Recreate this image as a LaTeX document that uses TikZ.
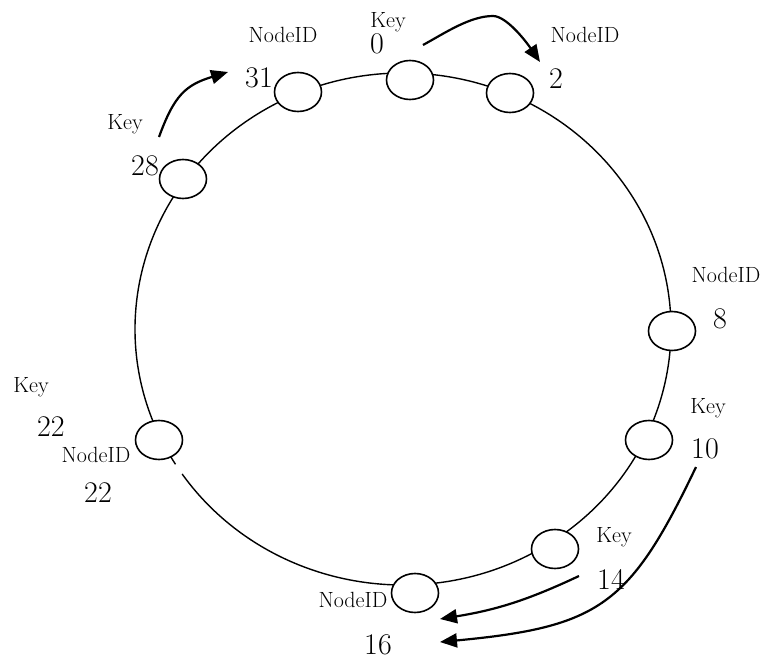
\documentclass[tikz,border=0pt]{standalone}
\usetikzlibrary{shapes.geometric,arrows.meta}
\begin{document}
\begin{tikzpicture}[x=1pt,y=1pt,
  ringnode/.style={ellipse,draw,fill=white,line width=1.6pt,minimum width=47pt,minimum height=39pt,inner sep=0pt},
  seg/.style={line width=1.4pt},
  small/.style={inner sep=0pt,anchor=base,font=\fontsize{22}{25}\selectfont},
  num/.style={inner sep=0pt,anchor=base,font=\fontsize{30}{34}\selectfont},
  arr/.style={line width=2.2pt,-{Triangle[length=17pt,width=14pt]}}]
\useasboundingbox (0,0) rectangle (766,-659);

% the ring (an ellipse, with a small gap below node 22)
\coordinate (ringc) at (403,-329);
\draw[seg] (ringc) ++(-145.5:268 and 256)
  arc[start angle=-145.5, end angle=211.9, x radius=268, y radius=256];

% ring nodes
\node[ringnode] (n0)  at (410,-80)  {};
\node[ringnode] (n2)  at (510,-93)  {};
\node[ringnode] (n8)  at (672,-331) {};
\node[ringnode] (n10) at (649,-440) {};
\node[ringnode] (n14) at (555,-549) {};
\node[ringnode] (n16) at (415,-593) {};
\node[ringnode] (n22) at (159,-440) {};
\node[ringnode] (n28) at (183,-179) {};
\node[ringnode] (n31) at (298,-92)  {};

% labels
\node[small] (k0)   at (388,-27)  {Key};
\node[num]   (v0)   at (377,-53)  {0};
\node[small] (id31) at (283,-42)  {NodeID};
\node[num]   (v31)  at (259,-87)  {31};
\node[small] (id2)  at (585,-42)  {NodeID};
\node[num]   (v2)   at (556,-88)  {2};
\node[small] (k28)  at (125,-129) {Key};
\node[num]   (v28)  at (145,-175) {28};
\node[small] (id8)  at (726,-282) {NodeID};
\node[num]   (v8)   at (720,-328) {8};
\node[small] (k10)  at (708,-413) {Key};
\node[num]   (v10)  at (705,-458) {10};
\node[small] (k22)  at (31,-392)  {Key};
\node[num]   (v22k) at (51,-436)  {22};
\node[small] (id22) at (96,-462)  {NodeID};
\node[num]   (v22)  at (98,-502)  {22};
\node[small] (k14)  at (614,-542) {Key};
\node[num]   (v14)  at (611,-589) {14};
\node[small] (id16) at (353,-607) {NodeID};
\node[num]   (v16)  at (378,-654) {16};

% arrows
\coordinate (a0s)  at (423,-45);
\coordinate (a0e)  at (540,-62);
\draw[arr] (a0s) .. controls (445,-33) and (470,-16) .. (493,-16)
                 .. controls (506,-16) and (525,-40) .. (a0e);
\coordinate (a28s) at (159,-137);
\coordinate (a28e) at (228,-72);
\draw[arr] (a28s) to[out=70,in=197,looseness=1.2] (a28e);
\coordinate (a14s) at (579,-576);
\coordinate (a14e) at (440,-619);
\draw[arr] (a14s) to[bend left=8] (a14e);
\coordinate (a10s) at (696,-467);
\coordinate (a10e) at (440,-642);
\draw[arr] (a10s) .. controls (630,-605) and (600,-627) .. (a10e);
\end{tikzpicture}
\end{document}
